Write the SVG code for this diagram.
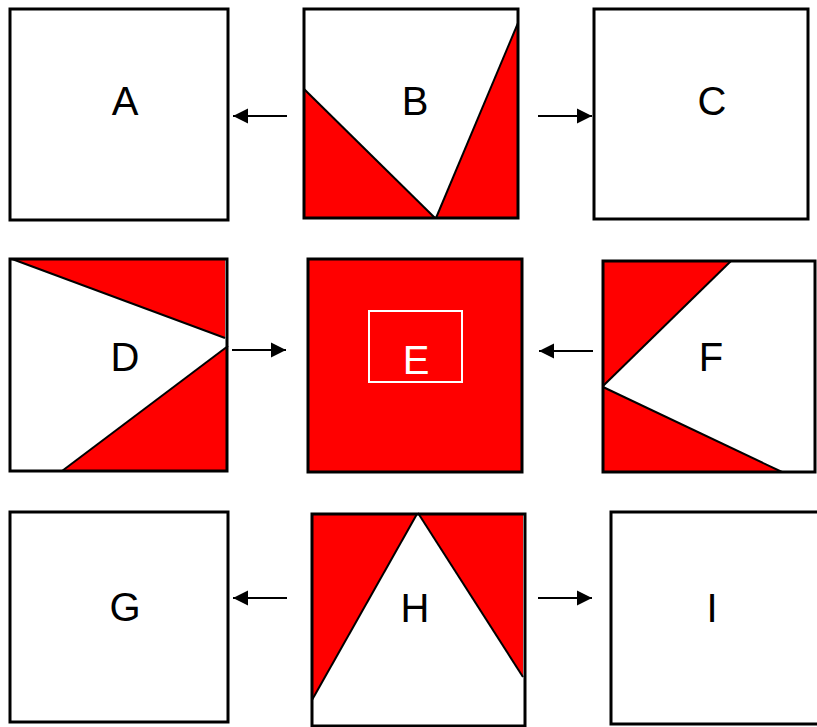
<svg xmlns="http://www.w3.org/2000/svg" width="817" height="727" viewBox="0 0 817 727">
<defs>
<style>
.box{fill:none;stroke:#000;stroke-width:3}
.red{fill:#ff0000}
.edge{stroke:#000;stroke-width:2;fill:none}
.lbl{font-family:"Liberation Sans",Arial,sans-serif;font-size:40px;fill:#000;text-anchor:middle}
.conn{stroke:#000;stroke-width:2;fill:none}
</style>
<marker id="ah" markerUnits="userSpaceOnUse" markerWidth="16" markerHeight="16" viewBox="0 0 16 16" refX="15" refY="8" orient="auto">
<path d="M0,0.5 L15,8 L0,15.5 Z" fill="#000"/>
</marker>
</defs>
<rect width="817" height="727" fill="#fff"/>
<g id="A">
<rect class="box" x="10" y="9" width="218" height="211" style="fill:#fff"/>
<text class="lbl" x="125" y="115">A</text>
</g>
<g id="B">
<rect x="304" y="9" width="214" height="209" fill="#fff"/>
<polygon class="red" points="304,89 304,218 435,218"/>
<polygon class="red" points="518,23 518,218 436,218"/>
<line class="edge" x1="304" y1="89" x2="435" y2="218"/>
<line class="edge" x1="518" y1="23" x2="436" y2="218"/>
<rect class="box" x="304" y="9" width="214" height="209"/>
<text class="lbl" x="415" y="115">B</text>
</g>
<g id="C">
<rect class="box" x="594" y="9" width="214" height="210" style="fill:#fff"/>
<text class="lbl" x="712" y="115">C</text>
</g>
<g id="D">
<rect x="10" y="259" width="217" height="212" fill="#fff"/>
<polygon class="red" points="12,259 225,259 225,338"/>
<polygon class="red" points="228,346 228,471 62,471"/>
<line class="edge" x1="12" y1="259" x2="225" y2="338"/>
<line class="edge" x1="228" y1="346" x2="62" y2="471"/>
<rect class="box" x="10" y="259" width="217" height="212"/>
<text class="lbl" x="125" y="371">D</text>
</g>
<g id="E">
<rect class="box" x="308" y="259" width="214" height="213" style="fill:#ff0000"/>
<rect x="369" y="311" width="93" height="71" fill="none" stroke="#fff" stroke-width="2"/>
<text class="lbl" x="416" y="374" style="fill:#fff">E</text>
</g>
<g id="F">
<rect x="603" y="261" width="212" height="211" fill="#fff"/>
<polygon class="red" points="603,261 731,261 603,386"/>
<polygon class="red" points="603,387 603,472 782,472"/>
<line class="edge" x1="731" y1="261" x2="603" y2="386"/>
<line class="edge" x1="603" y1="387" x2="782" y2="472"/>
<rect class="box" x="603" y="261" width="212" height="211"/>
<text class="lbl" x="711" y="371">F</text>
</g>
<g id="G">
<rect class="box" x="10" y="512" width="218" height="210" style="fill:#fff"/>
<text class="lbl" x="125" y="621">G</text>
</g>
<g id="H">
<rect x="312" y="514" width="213" height="212" fill="#fff"/>
<polygon class="red" points="312,514 417,514 312,700"/>
<polygon class="red" points="418,513 523,513 523,677"/>
<line class="edge" x1="417" y1="514" x2="312" y2="700"/>
<line class="edge" x1="418" y1="513" x2="523" y2="677"/>
<rect class="box" x="312" y="514" width="213" height="212"/>
<text class="lbl" x="415" y="622">H</text>
</g>
<g id="I">
<rect class="box" x="611" y="512" width="214" height="212" style="fill:#fff"/>
<text class="lbl" x="712" y="622">I</text>
</g>
<g id="connectors">
<line class="conn" x1="287" y1="116" x2="233" y2="116" marker-end="url(#ah)"/>
<line class="conn" x1="538" y1="116" x2="592" y2="116" marker-end="url(#ah)"/>
<line class="conn" x1="232" y1="350" x2="286" y2="350" marker-end="url(#ah)"/>
<line class="conn" x1="593" y1="351" x2="539" y2="351" marker-end="url(#ah)"/>
<line class="conn" x1="287" y1="598" x2="233" y2="598" marker-end="url(#ah)"/>
<line class="conn" x1="538" y1="598" x2="592" y2="598" marker-end="url(#ah)"/>
</g>
</svg>
